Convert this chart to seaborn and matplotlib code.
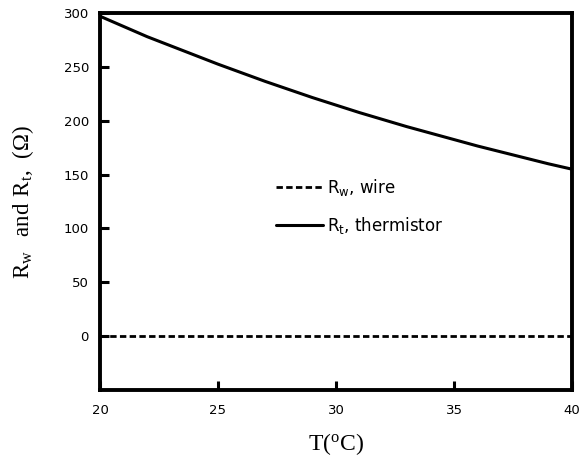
import matplotlib
matplotlib.use("Agg")
import matplotlib.pyplot as plt
import seaborn as sns
import pandas as pd

# Data
temperature = [20, 21, 22, 23, 24, 25, 26, 27, 28, 29, 30,
               31, 32, 33, 34, 35, 36, 37, 38, 39, 40]
r_wire = [0] * len(temperature)
r_thermistor = [297, 287.5, 278, 269.5, 261, 252.5, 244.5, 236.5, 229, 221.5,
                214.5, 207.5, 201, 194.5, 188.5, 182.5, 176.5, 171, 165.5, 160,
                155]
x_ticks = [20, 25, 30, 35, 40]
y_ticks = [0, 50, 100, 150, 200, 250, 300]

sns.set_style("ticks")
plt.rcParams['font.family'] = ['DejaVu Sans']
plt.rcParams['mathtext.fontset'] = 'custom'
plt.rcParams['mathtext.rm'] = 'Liberation Serif'
for k in ['text.color', 'axes.labelcolor', 'xtick.color', 'ytick.color',
          'axes.edgecolor']:
    plt.rcParams[k] = 'black'

fig = plt.figure(figsize=(5.81, 4.62), dpi=100)
ax = fig.add_axes([100/581, 72/462, 472/581, 377/462])

df_w = pd.DataFrame({"T": temperature, "R": r_wire})
df_t = pd.DataFrame({"T": temperature, "R": r_thermistor})

sns.lineplot(data=df_w, x="T", y="R", ax=ax, color="black", lw=2.0,
             linestyle=(0, (2.3, 1.2)), label=r"$\mathregular{R_w}$, wire")
sns.lineplot(data=df_t, x="T", y="R", ax=ax, color="black", lw=2.2,
             label=r"$\mathregular{R_t}$, thermistor")

ax.set_xlim(20, 40)
ax.set_ylim(-50, 300)
ax.set_xticks(x_ticks)
ax.set_yticks(y_ticks)
ax.tick_params(direction="in", length=6.5, width=2.2, labelsize=9.5,
               top=False, right=False, color="black", labelcolor="black")
ax.tick_params(axis="x", pad=10)
ax.tick_params(axis="y", pad=8)
for s in ax.spines.values():
    s.set_linewidth(2.8)
    s.set_color("black")
    s.set_visible(True)

ax.set_xlabel(r"$\mathregular{T(^oC)}$", fontsize=17, family="Liberation Serif")
ax.set_ylabel(r"$\mathregular{R_w\ \ and\ R_t,\ (\Omega)}$", fontsize=16.5,
              family="Liberation Serif")
ax.xaxis.set_label_coords(0.5, -0.108)
ax.yaxis.set_label_coords(-0.136, 0.5)

leg = ax.legend(loc="upper left", bbox_to_anchor=(0.373, 0.565), frameon=False,
                fontsize=12, handlelength=2.8, handletextpad=0.25,
                labelspacing=1.0, borderpad=0, borderaxespad=0)

fig.savefig("out.png", dpi=100)
